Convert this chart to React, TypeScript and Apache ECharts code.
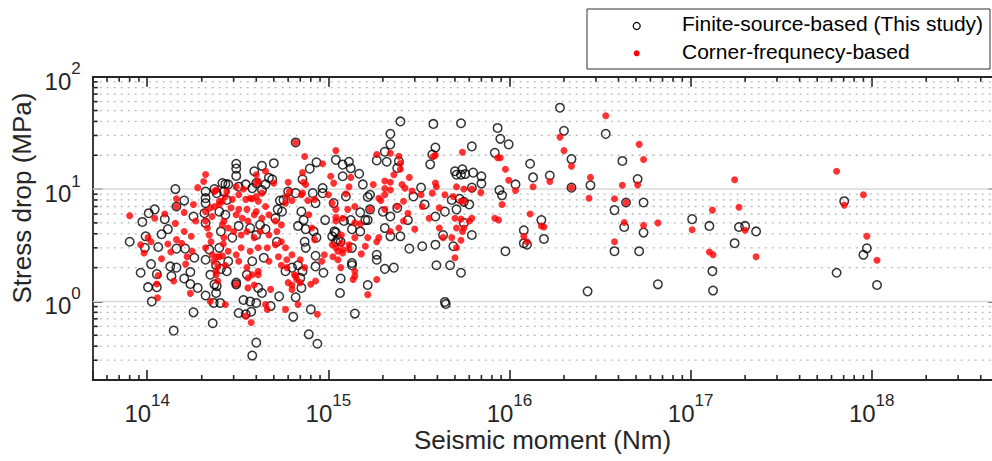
import React, { useEffect, useRef } from 'react';
import * as echarts from 'echarts';

// Seismic moment (Nm), stress drop (MPa)
const finiteSource: [number, number][] = [
  [1.43e14, 10], [2.1e14, 9.5], [2.35e14, 10], [2.7e14, 11.1], [1.6e14, 7.9], [1.45e14, 7.0], [1.1e14, 6.6],
  [1.02e14, 6.1], [9.4e13, 5.1], [1.25e14, 5.4], [1.8e14, 5.7], [1.3e14, 4.4], [1.2e14, 3.96], [8e13, 3.4],
  [9.8e13, 3.8], [9.7e13, 3.0], [1.15e14, 3.05], [1.45e14, 2.95], [1.62e14, 2.95], [1.82e14, 2.45], [1.05e14, 2.15],
  [9.2e13, 1.8], [1.34e14, 2.05], [1.45e14, 2.0], [1.13e14, 1.75], [1.36e14, 1.68], [1.6e14, 1.6], [1.73e14, 1.83],
  [1.73e14, 1.43], [1.9e14, 1.32], [1.01e14, 1.34], [1.13e14, 1.34], [1.06e14, 1.0], [1.8e14, 0.8], [1.4e14, 0.55],
  [2.1e14, 1.13], [2.3e14, 0.64], [2.4e14, 1.19], [2.33e14, 0.97], [2.53e14, 0.97], [2.1e14, 8.3], [2.1e14, 7.5],
  [2.07e14, 6.1], [2.1e14, 5.0], [2.1e14, 2.35], [2.23e14, 1.73], [2.35e14, 1.42], [2.2e14, 2.9], [2.4e14, 2.1],
  [6.6e14, 26], [1.1e15, 18.2], [1.2e15, 16.5], [8.6e14, 17.3], [7.9e14, 15.2], [7.2e14, 12.2], [3.1e14, 16.8],
  [3.1e14, 15.2], [3.1e14, 13.1], [3.9e14, 14.4], [4.3e14, 16.1], [5e14, 17], [4.0e14, 11.3], [4.7e14, 12.6],
  [4.9e14, 12.2], [2.6e14, 11.3], [2.8e14, 11], [3.2e14, 10.5], [3.5e14, 11], [2.42e14, 9.2], [2.65e14, 9.5],
  [3.8e14, 10.2], [4.3e14, 9.8], [4.5e14, 11], [6e14, 9.5], [6.6e14, 9.2], [5.65e14, 8.0], [5.4e14, 7.9],
  [5.25e14, 6.6], [5.55e14, 6.3], [8.2e14, 9.2], [9.3e14, 10.2], [9.3e14, 9.2], [8.5e14, 7.5], [9.6e14, 5.3],
  [1.07e15, 7.5], [1.08e15, 4.2], [1.05e15, 3.8], [1.13e15, 3.55], [1.17e15, 1.6], [1.16e15, 1.19], [8.6e14, 3.7],
  [1.2e15, 13], [7.1e14, 6.3], [7.3e14, 5.3], [6.8e14, 4.7], [7.5e14, 4.4], [8.3e14, 4.2], [7.4e14, 3.4],
  [7.5e14, 3.0], [8.5e14, 2.55], [9.4e14, 1.8], [8.5e14, 2.05], [6.8e14, 2.1], [7.2e14, 1.86], [7e14, 1.62],
  [6.3e14, 2.0], [5.8e14, 1.86], [6.6e14, 1.09], [6.4e14, 0.73], [8e14, 0.85], [7.8e14, 0.51], [8.7e14, 0.42],
  [7.1e14, 1.32], [5.35e14, 1.11], [4.8e14, 0.91], [4.3e14, 1.19], [4.0e14, 0.97], [3.7e14, 1.0], [3.4e14, 1.03],
  [3.2e14, 0.79], [3.5e14, 0.77], [3.75e14, 0.81], [4e14, 0.43], [3.8e14, 0.33], [3.1e14, 1.42], [2.75e14, 1.86],
  [2.75e14, 8.0], [2.5e14, 6.3], [2.7e14, 5.9], [2.55e14, 4.2], [2.95e14, 3.7], [3.2e14, 4.7], [3.7e14, 4.5],
  [4.2e14, 4.8], [4.5e14, 4.4], [5.1e14, 5.5], [5.2e14, 3.4], [2.5e14, 3.0], [2.8e14, 2.28], [4e14, 3.9],
  [3.8e14, 2.28], [4.4e14, 2.45], [3.55e14, 1.73], [3.1e14, 1.47], [4.1e14, 1.32], [2.55e14, 1.95], [2.42e14, 1.37],
  [2.5e15, 40], [3.8e15, 38], [5.4e15, 38.5], [2.2e15, 31], [2.2e15, 25], [2.05e15, 21.5], [1.85e15, 18],
  [2.1e15, 17.5], [2.45e15, 17.7], [2.4e15, 15.4], [3.9e15, 23.4], [3.75e15, 20.3], [3.65e15, 16.6], [5e15, 14.4],
  [5.4e15, 13.4], [5.1e15, 13.4], [1.3e15, 17.5], [1.33e15, 15.3], [1.48e15, 13.7], [1.55e15, 11], [1.7e15, 8.9],
  [1.65e15, 8.5], [1.25e15, 8.6], [3.25e15, 10.3], [2.95e15, 8.6], [3.4e15, 7.3], [3.9e15, 5.7], [4.4e15, 6.3],
  [4.8e15, 8.0], [5.3e15, 8.2], [5.6e15, 7.7], [3.9e15, 3.2], [4.3e15, 3.9], [4.9e15, 3.1], [4.7e15, 2.1],
  [5.4e15, 1.8], [3.95e15, 2.1], [3.3e15, 3.1], [2.8e15, 2.95], [2.3e15, 2.0], [2.05e15, 1.95], [1.85e15, 2.6],
  [1.85e15, 2.35], [1.35e15, 2.2], [1.65e15, 1.4], [1.4e15, 0.78], [4.4e15, 0.99], [4.45e15, 0.95], [2.5e15, 3.8],
  [2.2e15, 3.8], [1.6e15, 5.3], [1.5e15, 4.2], [1.35e15, 4.4], [1.22e15, 5.2], [1.1e15, 4.1], [1.7e15, 6.6],
  [1.65e15, 5.3], [1.5e15, 6.2], [1.33e15, 5.3], [1.1e15, 3.4], [1.17e15, 3.4], [1.35e15, 3.0], [1.35e15, 2.1],
  [2.4e15, 6.8], [2.75e15, 5.3], [2.0e15, 6.3], [2.2e15, 5.7], [2.05e15, 4.5],
  [6.2e15, 24], [5.5e15, 15], [5.7e15, 13.6], [6.3e15, 14], [7e15, 13], [7e15, 11.2], [6.2e15, 10.3],
  [6.0e15, 7.3], [5.1e15, 6.6], [5.6e15, 5.0], [6.2e15, 3.9], [8.6e15, 35], [8.9e15, 28], [9.9e15, 25],
  [8.3e15, 21], [8.8e15, 9.8], [9.1e15, 8.8], [9.5e15, 2.8], [1.08e16, 11], [1.3e16, 16.8], [1.35e16, 12.7],
  [1.67e16, 13.2], [2.2e16, 18.5], [2e16, 33], [1.9e16, 53], [2.2e16, 10.3], [1.5e16, 5.3], [1.2e16, 4.3],
  [1.2e16, 3.3], [1.25e16, 3.2], [1.55e16, 3.6], [2.7e16, 1.23],
  [3.4e16, 31], [2.8e16, 10.8], [4.2e16, 17.8], [5.1e16, 12.3], [4.4e16, 7.6], [3.8e16, 6.5], [5.5e16, 7.6],
  [4.3e16, 4.6], [5.5e16, 4.1], [3.8e16, 2.8], [5.2e16, 2.8], [6.6e16, 1.42], [1.02e17, 5.4], [1.27e17, 4.7],
  [1.32e17, 1.86], [1.33e17, 1.25], [1.85e17, 4.6], [2.0e17, 4.7], [1.75e17, 3.3], [2.3e17, 4.2],
  [7.05e17, 7.8], [9.4e17, 2.97], [9.0e17, 2.6], [6.4e17, 1.8], [1.07e18, 1.4],
];

const cornerFrequency: [number, number][] = [
  [2.1e14, 13.5], [2.05e14, 11.7], [1.9e14, 10.3], [2.35e14, 9.5], [1.45e14, 8.2], [1.45e14, 7.0], [8e13, 5.8],
  [1.1e14, 5.5], [1.25e14, 6.0], [1.6e14, 6.2], [1.8e14, 7.3], [1.43e14, 4.95], [1.6e14, 4.2], [1.75e14, 3.8],
  [1.85e14, 5.2], [9.2e13, 3.2], [1.01e14, 3.7], [9.6e13, 2.7], [1.05e14, 3.4], [1.3e14, 3.25], [1.35e14, 2.75],
  [1.45e14, 3.55], [1.55e14, 3.3], [1.77e14, 2.8], [1.66e14, 2.5], [1.63e14, 2.15], [1.2e14, 2.4], [1.15e14, 1.7],
  [1.4e14, 1.52], [1.13e14, 1.43], [1.14e14, 1.08], [1.73e14, 1.18], [2.23e14, 1.0], [2.7e14, 0.94],
  [2.1e14, 6.3], [2.1e14, 5.2], [2.15e14, 4.5], [2.2e14, 3.9], [2.25e14, 3.4], [2.1e14, 3.0], [2.4e14, 1.86],
  [2.4e14, 1.73], [2.33e14, 2.28], [2.45e14, 2.05], [2.45e14, 1.52], [2.28e14, 2.6], [2.42e14, 2.5], [2.28e14, 5.7],
  [2.23e14, 6.8], [2.35e14, 7.0], [2.5e14, 7.3], [2.6e14, 7.8], [2.65e14, 5.2], [2.65e14, 3.7], [2.6e14, 2.55],
  [2.63e14, 3.25],
  [6.6e14, 26], [7.4e14, 19.5], [1.1e15, 22], [9.3e14, 16.8], [7.2e14, 14], [7.5e14, 11], [4.5e14, 14.4],
  [4e14, 13.4], [5e14, 11.3], [3.1e14, 10.5], [3.4e14, 10], [2.75e14, 9.5], [2.4e14, 9.8], [4e14, 11.3],
  [4.1e14, 11.8], [4.3e14, 9.2], [4e14, 8.6], [3.7e14, 8.3], [6e14, 11.5], [6.1e14, 9.5], [5.9e14, 8.6],
  [6.3e14, 7.9], [5.8e14, 7.5], [7.3e14, 11.5], [7.2e14, 9.2], [7.1e14, 8.9], [7.7e14, 7.9], [8.4e14, 8.1],
  [1.03e15, 13], [1.07e15, 11.3], [1.0e15, 8.9], [1.05e15, 7.5], [1.1e15, 6.6], [1.18e15, 3.9], [1.1e15, 5.6],
  [1.13e15, 2.8], [1.06e15, 2.5], [1.13e15, 2.35], [1.17e15, 2.0], [1.2e15, 2.9], [1.18e15, 3.3], [1.05e15, 3.2],
  [7.8e14, 5.9], [8.1e14, 4.5], [8.4e14, 3.55], [9.5e14, 2.6], [9.2e14, 2.28], [7e14, 2.35], [7.4e14, 2.0],
  [6.6e14, 1.68], [7e14, 1.47], [8e14, 1.42], [8.5e14, 1.52], [8.7e14, 0.77], [6.8e14, 0.94], [6.3e14, 1.4],
  [5.8e14, 0.85], [6.3e14, 2.6], [5.9e14, 2.35], [5.9e14, 2.0], [6e14, 1.47], [6.3e14, 1.28], [6.7e14, 1.57],
  [6.5e14, 1.73], [3.5e14, 0.74], [3.75e14, 0.65], [3.6e14, 1.62], [3.9e14, 1.4], [4.1e14, 1.86], [4.8e14, 1.28],
  [4.5e14, 0.94], [4.6e14, 0.85],
  [2.5e14, 7.8], [2.7e14, 8.6], [2.95e14, 8.1], [3.2e14, 8.9], [3.5e14, 8.1], [3.8e14, 8.2], [4.1e14, 7.8],
  [4.5e14, 7.0], [2.9e14, 6.8], [3.2e14, 6.6], [3.55e14, 6.6], [4e14, 6.3], [3.1e14, 5.9], [3.35e14, 5.5],
  [3.6e14, 5.2], [3.9e14, 5.9], [4.3e14, 5.5], [4.7e14, 5.9], [5.1e14, 5.2], [5.5e14, 4.8],
  [2.6e14, 4.8], [2.8e14, 4.5], [3.0e14, 4.2], [3.3e14, 3.9], [3.55e14, 4.2], [3.9e14, 3.7], [4.2e14, 4.2],
  [4.7e14, 3.9], [5.2e14, 4.2], [5.5e14, 3.4], [5.1e14, 3.2], [4.6e14, 3.0], [4.1e14, 3.0], [3.7e14, 2.8],
  [3.3e14, 3.0], [3.1e14, 2.6], [2.8e14, 2.8], [2.5e14, 2.5], [2.7e14, 2.1], [3.2e14, 2.28], [3.55e14, 2.0],
  [3.8e14, 1.73], [4.1e14, 1.73], [3.1e14, 1.42], [3.6e14, 1.32], [4.7e14, 2.28], [5.3e14, 2.5], [5.5e14, 2.1],
  [5.8e14, 3.0],
  [1.85e15, 20.3], [2.2e15, 20.8], [2.45e15, 19.6], [2.5e15, 17], [2.5e15, 15], [2.3e15, 13.4], [2.2e15, 11.5],
  [2.05e15, 10.1], [2.05e15, 8.9], [1.95e15, 7.9], [3.8e15, 19.5], [3.9e15, 20], [5.5e15, 21.3], [3.9e15, 11.3],
  [3.95e15, 10.5], [1.33e15, 12.7], [1.3e15, 10.5], [1.25e15, 9.1], [1.77e15, 11], [2.05e15, 11.8], [2.2e15, 9.8],
  [1.9e15, 8.3], [2.55e15, 11], [2.8e15, 12.7], [2.65e15, 10.2], [2.9e15, 9.6], [3.25e15, 8.9], [3.75e15, 9.2],
  [3.3e15, 7.0], [3.6e15, 5.5], [4.1e15, 6.8], [4.4e15, 8.9], [4.9e15, 8.6], [5.4e15, 7.8], [5.0e15, 5.5],
  [5.1e15, 4.5], [5.5e15, 4.2], [4.8e15, 3.7], [4.3e15, 3.7], [4.1e15, 4.5],
  [2.75e15, 6.1], [3.0e15, 4.4], [2.6e15, 5.2], [2.45e15, 4.5], [2.2e15, 4.2], [1.9e15, 3.7], [1.65e15, 3.7],
  [1.85e15, 3.4], [1.6e15, 3.1], [1.4e15, 3.7], [1.3e15, 3.2], [1.1e15, 3.0], [1.2e15, 2.7], [1.3e15, 2.9],
  [1.4e15, 1.86], [1.37e15, 1.57], [1.4e15, 1.68], [1.85e15, 1.57], [1.65e15, 1.15], [1.52e15, 2.65],
  [2.05e15, 6.6], [2.4e15, 7.0], [2.6e15, 7.8], [1.7e15, 6.6], [1.4e15, 7.0], [1.28e15, 6.6], [1.2e15, 5.5],
  [1.4e15, 5.0], [1.1e15, 5.2], [1.5e15, 4.9],
  [5.1e15, 10.5], [5.6e15, 10], [6.2e15, 10], [6.95e15, 9.3], [5.6e15, 7.8], [5.4e15, 5.4], [6.2e15, 5.5],
  [6.0e15, 5.2], [5.6e15, 4.5], [5.4e15, 3.5], [5.1e15, 3.0], [5.0e15, 2.45],
  [8.6e15, 19], [8.9e15, 19], [9.5e15, 15], [9.9e15, 12], [1.08e16, 9.7], [9.1e15, 7.3], [8.3e15, 5.5],
  [8.7e15, 5.3], [1.35e16, 10.5], [1.67e16, 11.7], [2.2e16, 16], [1.9e16, 29], [2e16, 22], [2.2e16, 10.3],
  [1.3e16, 6.0], [1.5e16, 4.7], [1.55e16, 4.6], [1.2e16, 3.8], [1.25e16, 3.4],
  [3.4e16, 45], [2.8e16, 12.7], [2.75e16, 8.3], [5.2e16, 25], [5.5e16, 18.3], [5.1e16, 10.9], [4.2e16, 10.8],
  [3.8e16, 8.2], [4.4e16, 7.6], [4.3e16, 5.05], [5.5e16, 4.75], [6.6e16, 5.0], [3.8e16, 3.4], [1.02e17, 4.35],
  [1.32e17, 6.5], [1.27e17, 2.75], [1.33e17, 2.6], [1.75e17, 12.1], [1.85e17, 6.9], [2.0e17, 4.3], [2.3e17, 2.5],
  [6.4e17, 14.4], [7.05e17, 7.2], [9.0e17, 8.9], [9.4e17, 3.8], [1.07e18, 2.33],
];

const xRange = [5e13, 5e18];
const yRange = [0.2, 100];
const xMinorTicks = [
  6e13, 7e13, 8e13, 9e13,
  2e14, 3e14, 4e14, 5e14, 6e14, 7e14, 8e14, 9e14,
  2e15, 3e15, 4e15, 5e15, 6e15, 7e15, 8e15, 9e15,
  2e16, 3e16, 4e16, 5e16, 6e16, 7e16, 8e16, 9e16,
  2e17, 3e17, 4e17, 5e17, 6e17, 7e17, 8e17, 9e17,
  2e18, 3e18, 4e18,
];
const yMinorTicks = [0.3, 0.4, 0.5, 0.6, 0.7, 0.8, 0.9, 2, 3, 4, 5, 6, 7, 8, 9, 20, 30, 40, 50, 60, 70, 80, 90];
const yMajorGrid = [1, 10];

const FONT = "'Liberation Sans', Arial, Helvetica, sans-serif";
const INK = '#262626';

const powLabel = (v: number) => {
  const l = Math.log10(v);
  const e = Math.round(l);
  if (Math.abs(l - e) > 1e-6) return '';
  return `{b|10}{s|${e}}`;
};

const labelRich = {
  b: { fontSize: 24, fontFamily: FONT, color: INK, verticalAlign: 'bottom' },
  s: { fontSize: 17, fontFamily: FONT, color: INK, verticalAlign: 'top', padding: [0, 0, 16, 0] },
};

export default function App() {
  const ref = useRef<HTMLDivElement>(null);
  useEffect(() => {
    if (!ref.current) return;
    const chart = echarts.init(ref.current, undefined, { renderer: 'svg' });
    const axisLine = { show: true, lineStyle: { color: INK, width: 1.8 } };
    const axisTick = { show: true, inside: true, length: 10, lineStyle: { color: INK, width: 1.6 } };
    const yGridData = [
      ...yMinorTicks.map((v) => [1e15, v, 0]),
      ...yMajorGrid.map((v) => [1e15, v, 1]),
    ];
    const xTickData = xMinorTicks.map((v) => [v, 1]);
    const option: any = {
      animation: false,
      backgroundColor: '#ffffff',
      grid: { left: 92.7, right: -6.3, top: 76.7, bottom: 81, containLabel: false, outerBoundsMode: 'none' },
      xAxis: [
        {
          type: 'log', logBase: 10, min: xRange[0], max: xRange[1], position: 'bottom',
          axisLine, axisTick, splitLine: { show: false }, minorTick: { show: false },
          axisLabel: { show: true, margin: 12, formatter: powLabel, rich: labelRich, showMinLabel: true, showMaxLabel: true },
        },
        {
          type: 'log', logBase: 10, min: xRange[0], max: xRange[1], position: 'top',
          axisLine, axisTick, splitLine: { show: false }, axisLabel: { show: false },
        },
      ],
      yAxis: [
        {
          type: 'log', logBase: 10, min: yRange[0], max: yRange[1], position: 'left',
          axisLine, axisTick, splitLine: { show: false },
          axisLabel: { show: true, margin: 12, formatter: powLabel, rich: labelRich, showMinLabel: true, showMaxLabel: true },
        },
        {
          type: 'log', logBase: 10, min: yRange[0], max: yRange[1], position: 'right',
          axisLine, axisTick, splitLine: { show: false }, axisLabel: { show: false },
        },
      ],
      series: [
        {
          type: 'custom', name: 'ygrid', silent: true, z: 1, clip: false,
          data: yGridData,
          renderItem: (params: any, api: any) => {
            const cs = params.coordSys;
            const y = api.coord([1e15, api.value(1)])[1];
            const major = api.value(2) === 1;
            const children: any[] = [
              {
                type: 'line',
                shape: { x1: cs.x, y1: y, x2: cs.x + cs.width, y2: y },
                style: major
                  ? { stroke: '#d9d9d9', lineWidth: 1.5 }
                  : { stroke: '#b9b9b9', lineWidth: 1.3, lineDash: [2, 5] },
              },
            ];
            if (!major) {
              children.push({ type: 'line', shape: { x1: cs.x, y1: y, x2: cs.x + 5, y2: y }, style: { stroke: INK, lineWidth: 1.6 } });
              children.push({ type: 'line', shape: { x1: cs.x + cs.width - 5, y1: y, x2: cs.x + cs.width, y2: y }, style: { stroke: INK, lineWidth: 1.6 } });
            }
            return { type: 'group', children };
          },
        },
        {
          type: 'custom', name: 'xticks', silent: true, z: 1, clip: false,
          data: xTickData,
          renderItem: (params: any, api: any) => {
            const cs = params.coordSys;
            const x = api.coord([api.value(0), 1])[0];
            const yb = cs.y + cs.height;
            return {
              type: 'group',
              children: [
                { type: 'line', shape: { x1: x, y1: yb, x2: x, y2: yb - 5 }, style: { stroke: INK, lineWidth: 1.6 } },
                { type: 'line', shape: { x1: x, y1: cs.y, x2: x, y2: cs.y + 5 }, style: { stroke: INK, lineWidth: 1.6 } },
              ],
            };
          },
        },
        {
          type: 'scatter', name: 'Finite-source-based (This study)', data: finiteSource, z: 3,
          symbol: 'circle', symbolSize: 8.5, silent: true,
          itemStyle: { color: 'rgba(255,255,255,0)', borderColor: '#000000', borderWidth: 1.5 },
          emphasis: { disabled: true },
        },
        {
          type: 'scatter', name: 'Corner-frequnecy-based', data: cornerFrequency, z: 4,
          symbol: 'circle', symbolSize: 7, silent: true,
          itemStyle: { color: '#ff0000' },
          emphasis: { disabled: true },
        },
      ],
      graphic: [
        {
          type: 'text', x: 542.5, y: 440,
          style: { text: 'Seismic moment (Nm)', fontSize: 26, fontFamily: FONT, fill: INK, align: 'center', verticalAlign: 'middle' },
        },
        {
          type: 'text', x: 21.7, y: 198, rotation: Math.PI / 2,
          style: { text: 'Stress drop (MPa)', fontSize: 26, fontFamily: FONT, fill: INK, align: 'center', verticalAlign: 'middle' },
        },
        {
          type: 'rect', shape: { x: 587, y: 9, width: 403, height: 60 },
          style: { fill: '#ffffff', stroke: '#333333', lineWidth: 1 }, z: 10,
        },
        {
          type: 'circle', shape: { cx: 636.7, cy: 26, r: 3.5 },
          style: { fill: 'none', stroke: '#000000', lineWidth: 1.2 }, z: 11,
        },
        {
          type: 'circle', shape: { cx: 636.7, cy: 53.3, r: 3 },
          style: { fill: '#ff0000' }, z: 11,
        },
        {
          type: 'text', x: 682, y: 23.5, z: 11,
          style: { text: 'Finite-source-based (This study)', fontSize: 21, fontFamily: FONT, fill: '#000000', verticalAlign: 'middle' },
        },
        {
          type: 'text', x: 682, y: 51, z: 11,
          style: { text: 'Corner-frequnecy-based', fontSize: 21, fontFamily: FONT, fill: '#000000', verticalAlign: 'middle' },
        },
      ],
    };
    chart.setOption(option);
    return () => chart.dispose();
  }, []);
  return (
    <div
      ref={ref}
      style={{ position: 'fixed', left: 0, top: 0, width: 992, height: 461, background: '#ffffff' }}
    />
  );
}
